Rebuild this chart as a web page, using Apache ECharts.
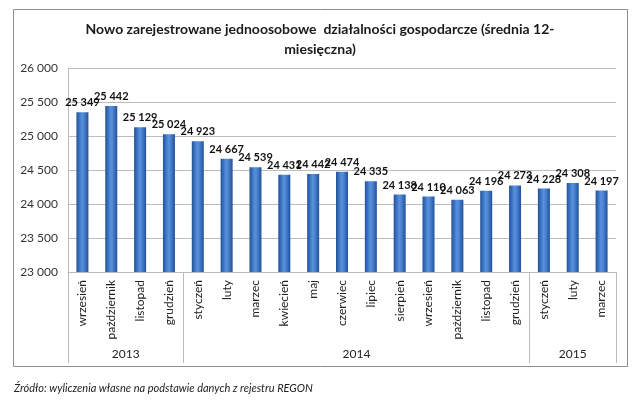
<!DOCTYPE html>
<html><head><meta charset="utf-8">
<script src="https://cdn.jsdelivr.net/npm/echarts@6/dist/echarts.min.js"></script>
<style>html,body{margin:0;padding:0;background:#fff}#c{width:640px;height:413px}</style>
</head><body><div id="c"></div>
<script>
const categories = ['wrzesień','październik','listopad','grudzień','styczeń','luty','marzec','kwiecień','maj','czerwiec','lipiec','sierpień','wrzesień','październik','listopad','grudzień','styczeń','luty','marzec'];
const values = [25349,25442,25129,25024,24923,24667,24539,24431,24442,24474,24335,24138,24110,24063,24196,24273,24228,24308,24197];
const years = ['2013','2014','2015'];
const yearCounts = [4,12,3];
const yTicks = [23000,23500,24000,24500,25000,25500,26000];

const fmt = v => String(v).replace(/\B(?=(\d{3})+(?!\d))/g,' ');
const FONT = 'Lato';
const chart = echarts.init(document.getElementById('c'));
const grid = {left:68, right:24, top:68, bottom:141};
chart.setOption({
  animation:false,
  title:{text:'Nowo zarejestrowane jednoosobowe  działalności gospodarcze (średnia 12-\nmiesięczna)',
    left:'center', top:14, textStyle:{fontFamily:FONT,fontSize:14,fontWeight:'bold',color:'#1a1a1a',lineHeight:20}},
  grid:grid,
  xAxis:{type:'category',data:categories,
    axisLine:{show:true,lineStyle:{color:'#bbb'}},axisTick:{show:false},
    axisLabel:{rotate:90,interval:0,fontFamily:FONT,fontSize:12,color:'#222',margin:8}},
  yAxis:{type:'value',min:yTicks[0],max:yTicks[yTicks.length-1],interval:500,
    axisLine:{show:true,lineStyle:{color:'#bbb'}},axisTick:{show:false},
    splitLine:{lineStyle:{color:'#bdbdbd'}},
    axisLabel:{formatter:fmt,fontFamily:FONT,fontSize:12,color:'#333',margin:10}},
  series:[{type:'bar',data:values,barWidth:12,
    itemStyle:{color:new echarts.graphic.LinearGradient(0,0,1,0,[
      {offset:0,color:'#21519a'},{offset:0.45,color:'#5690de'},{offset:0.6,color:'#4f88d4'},{offset:1,color:'#21519a'}])},
    label:{show:true,position:'top',formatter:p=>fmt(p.value),fontFamily:FONT,fontSize:11,fontWeight:'bold',color:'#111',distance:4}}]
});
const els = [];
els.push({type:'rect',shape:{x:13.5,y:9.5,width:614,height:357},style:{fill:'none',stroke:'#8c8c8c',lineWidth:1},silent:true});
const half = chart.convertToPixel({xAxisIndex:0},1) - chart.convertToPixel({xAxisIndex:0},0);
const yb = chart.convertToPixel({yAxisIndex:0},yTicks[0]);
let start = 0;
const bounds=[0];
yearCounts.forEach(n=>{start+=n;bounds.push(start);});
const x00 = chart.convertToPixel({xAxisIndex:0},0) - half/2;
bounds.forEach(b=>{
  const x = Math.round(x00 + b*half)+0.5;
  els.push({type:'line',shape:{x1:x,y1:yb,x2:x,y2:yb+91},style:{stroke:'#bbb',lineWidth:1},silent:true});
});
years.forEach((y,i)=>{
  const x0 = x00 + bounds[i]*half;
  const x1 = x00 + bounds[i+1]*half;
  els.push({type:'text',x:(x0+x1)/2,y:yb+82,style:{text:y,fontFamily:FONT,fontSize:12,fill:'#222',textAlign:'center',textVerticalAlign:'middle'},silent:true});
});
els.push({type:'text',left:14,top:383,style:{text:'Źródło: wyliczenia własne na podstawie danych z rejestru REGON',fontFamily:FONT,fontSize:11,fontStyle:'italic',fill:'#222'},silent:true});
chart.setOption({graphic:els});
</script></body></html>
